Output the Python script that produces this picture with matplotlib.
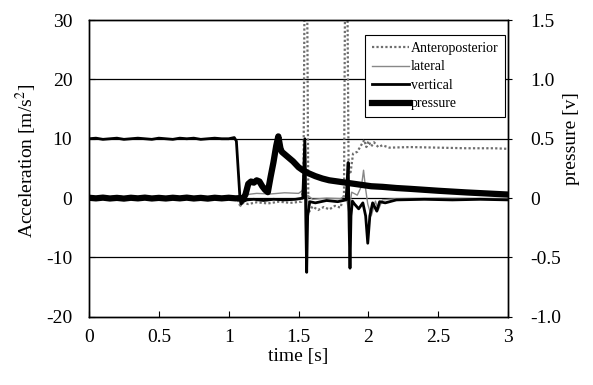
import numpy as np
import matplotlib
matplotlib.use('Agg')
import matplotlib.pyplot as plt

plt.rcParams['font.family'] = ['Liberation Serif', 'DejaVu Serif']
plt.rcParams['mathtext.fontset'] = 'stix'
plt.rcParams['axes.unicode_minus'] = False

# (time [s], acceleration [m/s^2])
anteroposterior = [
    (0.00, 0.2), (0.10, 0.0), (0.20, 0.3), (0.30, 0.1), (0.40, 0.2), (0.50, -0.1),
    (0.60, 0.2), (0.70, 0.0), (0.80, 0.2), (0.90, 0.1), (1.00, 0.0), (1.06, 0.1),
    (1.08, -1.2), (1.10, -0.8), (1.14, -1.0), (1.20, -0.7), (1.28, -0.9), (1.36, -0.6),
    (1.44, -0.8), (1.52, -0.6), (1.535, 2.0), (1.542, 32.0), (1.562, 32.0), (1.57, -2.5),
    (1.60, -1.4), (1.64, -2.0), (1.68, -1.5), (1.72, -1.9), (1.76, -1.3), (1.80, -1.6),
    (1.825, 0.5), (1.832, 32.0), (1.850, 32.0), (1.858, 4.5), (1.87, 4.0), (1.89, 7.5),
    (1.92, 7.8), (1.95, 9.0), (1.97, 9.8), (1.985, 8.6), (2.00, 9.6), (2.02, 8.7),
    (2.04, 9.4), (2.07, 8.6), (2.10, 8.9), (2.15, 8.5), (2.30, 8.6), (2.50, 8.5),
    (2.70, 8.4), (2.90, 8.4), (3.00, 8.3),
]

lateral = [
    (0.00, 0.0), (0.50, 0.0), (1.00, 0.0), (1.07, 0.1), (1.085, -1.4), (1.10, -0.5),
    (1.13, 0.6), (1.20, 0.8), (1.30, 0.7), (1.40, 0.9), (1.50, 0.8), (1.54, 1.5),
    (1.55, 9.0), (1.557, -4.0), (1.565, 0.5), (1.60, -0.2), (1.70, 0.0), (1.80, -0.1),
    (1.84, 0.5), (1.86, -2.5), (1.88, 1.0), (1.92, 0.5), (1.95, 2.0), (1.965, 4.7),
    (1.98, 1.5), (1.995, -1.0), (2.02, -3.0), (2.05, -0.5), (2.07, -2.0), (2.10, -0.3),
    (2.20, -0.1), (2.50, 0.0), (3.00, -0.1),
]

vertical = [
    (0.00, 10.0), (0.05, 10.1), (0.10, 9.9), (0.15, 10.0), (0.20, 10.1), (0.25, 9.9),
    (0.30, 10.0), (0.35, 10.1), (0.40, 10.0), (0.45, 9.9), (0.50, 10.1), (0.55, 10.0),
    (0.60, 9.9), (0.65, 10.1), (0.70, 10.0), (0.75, 10.1), (0.80, 9.9), (0.85, 10.0),
    (0.90, 10.1), (0.95, 10.0), (1.00, 10.0), (1.04, 10.2), (1.055, 9.6), (1.07, 4.0),
    (1.08, 0.2), (1.09, -1.0), (1.10, -0.6), (1.13, -0.3), (1.18, -0.2), (1.25, -0.4),
    (1.32, -0.2), (1.40, -0.3), (1.48, -0.2), (1.53, 0.0), (1.545, 10.0), (1.552, -4.0),
    (1.558, -12.5), (1.565, -3.0), (1.58, -0.6), (1.62, -0.8), (1.70, -0.4), (1.78, -0.6),
    (1.84, -0.3), (1.855, 6.0), (1.862, -5.0), (1.868, -11.8), (1.875, -3.0), (1.885, -0.5),
    (1.90, -1.0), (1.93, -1.8), (1.96, -0.8), (1.98, -3.0), (1.995, -7.6), (2.01, -3.0),
    (2.03, -0.8), (2.06, -2.2), (2.08, -0.6), (2.12, -0.8), (2.20, -0.3), (2.40, -0.2),
    (2.60, -0.3), (2.80, -0.2), (3.00, -0.3),
]

# (time [s], pressure [v])
pressure = [
    (0.00, 0.003), (0.05, -0.002), (0.10, 0.004), (0.15, -0.003), (0.20, 0.002),
    (0.25, -0.004), (0.30, 0.003), (0.35, -0.002), (0.40, 0.004), (0.45, -0.003),
    (0.50, 0.002), (0.55, -0.003), (0.60, 0.003), (0.65, -0.002), (0.70, 0.004),
    (0.75, -0.003), (0.80, 0.002), (0.85, -0.004), (0.90, 0.003), (0.95, -0.002),
    (1.00, 0.003), (1.05, -0.002), (1.08, 0.0), (1.10, -0.01), (1.12, 0.03),
    (1.14, 0.12), (1.16, 0.14), (1.18, 0.13), (1.20, 0.15), (1.22, 0.14),
    (1.24, 0.10), (1.26, 0.07), (1.28, 0.05), (1.30, 0.18), (1.32, 0.30),
    (1.34, 0.44), (1.355, 0.52), (1.37, 0.42), (1.38, 0.39), (1.42, 0.35),
    (1.46, 0.31), (1.50, 0.26), (1.53, 0.235), (1.57, 0.21), (1.62, 0.185),
    (1.67, 0.165), (1.72, 0.15), (1.78, 0.14), (1.84, 0.13), (1.90, 0.12),
    (1.96, 0.11), (2.02, 0.10), (2.10, 0.095), (2.20, 0.085), (2.30, 0.078),
    (2.40, 0.07), (2.50, 0.062), (2.60, 0.055), (2.70, 0.048), (2.80, 0.042),
    (2.90, 0.036), (3.00, 0.03),
]

x_ticks = [0, 0.5, 1, 1.5, 2, 2.5, 3]
x_labels = ['0', '0.5', '1', '1.5', '2', '2.5', '3']
acc_ticks = [-20, -10, 0, 10, 20, 30]
p_ticks = [-1.0, -0.5, 0, 0.5, 1.0, 1.5]
p_labels = ['-1.0', '-0.5', '0', '0.5', '1.0', '1.5']

fig = plt.figure(figsize=(5.93, 3.85), dpi=100)
ax = fig.add_axes([0.150, 0.177, 0.707, 0.771])
ax2 = ax.twinx()

for y in acc_ticks[1:-1]:
    ax.axhline(y, color='black', lw=0.9, zorder=0)

t, v = np.array(anteroposterior).T
l1, = ax.plot(t, v, color='#6e6e6e', lw=1.6, ls=(0, (1, 1)), label='Anteroposterior')
t, v = np.array(lateral).T
l2, = ax.plot(t, v, color='#888888', lw=1.0, label='lateral')
t, v = np.array(vertical).T
l3, = ax.plot(t, v, color='black', lw=2.0, label='vertical')
t, v = np.array(pressure).T
l4, = ax2.plot(t, v, color='black', lw=4.5, label='pressure')

ax.set_xlim(0, 3)
ax.set_ylim(-20, 30)
ax2.set_ylim(-1.0, 1.5)
ax.set_xticks(x_ticks)
ax.set_xticklabels(x_labels)
ax.set_yticks(acc_ticks)
ax2.set_yticks(p_ticks)
ax2.set_yticklabels(p_labels)

ax.tick_params(axis='x', direction='in', length=4, pad=9, labelsize=14)
ax.tick_params(axis='y', direction='in', length=4, pad=12, labelsize=14)
ax2.tick_params(axis='y', direction='out', length=3, pad=13, labelsize=14)
for a in (ax, ax2):
    for s in a.spines.values():
        s.set_linewidth(1.0)

ax.set_xlabel('time [s]', fontsize=14, labelpad=1)
ax.set_ylabel('Acceleration [m/s$^2$]', fontsize=14)
ax.yaxis.set_label_coords(-0.12, 0.525)
ax2.set_ylabel('pressure [v]', fontsize=14)
ax2.yaxis.set_label_coords(1.13, 0.60)

leg = ax2.legend(handles=[l1, l2, l3, l4], loc='upper right',
                 bbox_to_anchor=(0.993, 0.95), borderaxespad=0, fontsize=10,
                 handlelength=2.7, handletextpad=0.1, labelspacing=0.4,
                 fancybox=False, framealpha=1, edgecolor='black',
                 borderpad=0.5)
leg.get_frame().set_linewidth(0.8)

fig.savefig('out.png', dpi=100)
